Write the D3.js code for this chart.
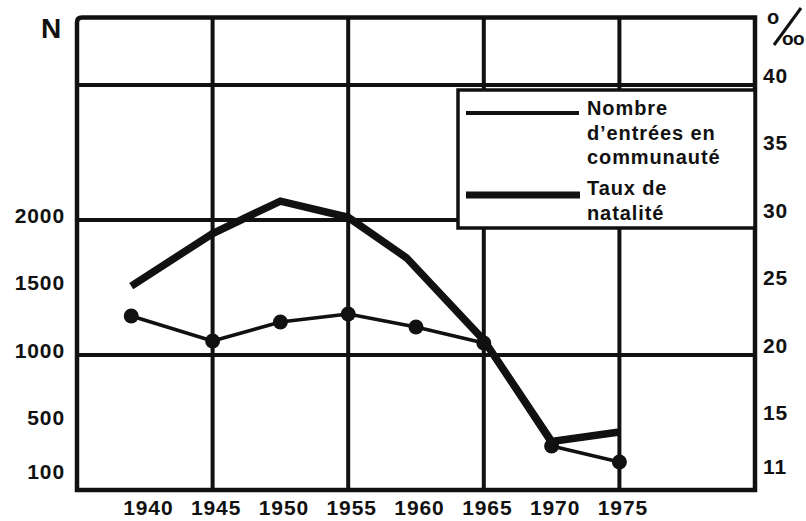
<!DOCTYPE html>
<html>
<head>
<meta charset="utf-8">
<script src="https://cdn.jsdelivr.net/npm/d3@7"></script>
<style>
  html, body { margin: 0; padding: 0; background: #fff; }
  svg { display: block; }
  text { font-family: "Liberation Sans", Arial, Helvetica, sans-serif; font-weight: bold; fill: #111; }
</style>
</head>
<body>
<svg id="chart" width="806" height="521"></svg>
<script>
// ---- data ----
const entriesYears = [1939, 1945, 1950, 1955, 1960, 1965, 1970, 1975];
const entriesValues = [1289, 1104, 1244, 1304, 1207, 1089, 326, 207];   // N
const natalityYears = [1939, 1945, 1950, 1955, 1959.3, 1965, 1970, 1975];
const natalityValues = [25.1, 29.0, 31.4, 30.2, 27.2, 21.1, 13.6, 14.3]; // ‰
const xTickLabels = [1940, 1945, 1950, 1955, 1960, 1965, 1970, 1975];
const leftTicks = [2000, 1500, 1000, 500, 100];
const rightTicks = [40, 35, 30, 25, 20, 15, 11];
const gridYears = [1945, 1955, 1965, 1975];
const gridN = [1000, 2000, 3000];
const legendLabels = [["Nombre", "d\u2019entrées en", "communauté"], ["Taux de", "natalité"]];

// ---- layout ----
const svg = d3.select("#chart");
const ink = "#111";
const x = d3.scaleLinear().domain([1935, 1985]).range([77, 755]);
const yN = d3.scaleLinear().domain([0, 3500]).range([490, 17.5]);
const yR = d3.scaleLinear().domain([10, 45]).range([490, 17.5]);
const fmt = d3.format("d");

// grid
const g = svg.append("g");
g.selectAll("line.h").data(gridN).join("line")
  .attr("x1", x(1935)).attr("x2", x(1985))
  .attr("y1", d => yN(d)).attr("y2", d => yN(d))
  .attr("stroke", ink).attr("stroke-width", 4);
g.selectAll("line.v").data(gridYears).join("line")
  .attr("x1", d => x(d)).attr("x2", d => x(d))
  .attr("y1", yN(3500)).attr("y2", yN(0))
  .attr("stroke", ink).attr("stroke-width", 4);
// frame
g.append("path")
  .attr("d", (() => {
    const l = x(1935), r = x(1985), t = yN(3500), b = yN(0), rad = 5;
    return `M${l},${b} L${l},${t + rad} Q${l},${t} ${l + rad},${t} L${r},${t} L${r},${b} Z`;
  })())
  .attr("fill", "none").attr("stroke", ink).attr("stroke-width", 4.5).attr("stroke-linejoin", "miter");

// lines
const lineN = d3.line().x(d => x(d[0])).y(d => yN(d[1]));
const lineR = d3.line().x(d => x(d[0])).y(d => yR(d[1]));
const natData = natalityYears.map((yr, i) => [yr, natalityValues[i]]);
const entData = entriesYears.map((yr, i) => [yr, entriesValues[i]]);

svg.append("path").attr("d", lineR(natData))
  .attr("fill", "none").attr("stroke", ink).attr("stroke-width", 7.5)
  .attr("stroke-linejoin", "miter").attr("stroke-linecap", "butt");
svg.append("path").attr("d", lineN(entData))
  .attr("fill", "none").attr("stroke", ink).attr("stroke-width", 3.5)
  .attr("stroke-linejoin", "round");
svg.selectAll("circle.dot").data(entData).join("circle")
  .attr("cx", d => x(d[0])).attr("cy", d => yN(d[1])).attr("r", 7.5).attr("fill", ink);

// legend
const lg = svg.append("g");
lg.append("rect").attr("x", 458).attr("y", 90).attr("width", x(1985) - 458).attr("height", 138)
  .attr("fill", "#fff").attr("stroke", ink).attr("stroke-width", 3.5);
lg.append("line").attr("x1", 466).attr("x2", 579).attr("y1", 113).attr("y2", 113)
  .attr("stroke", ink).attr("stroke-width", 4);
lg.append("line").attr("x1", 466).attr("x2", 580).attr("y1", 195).attr("y2", 195)
  .attr("stroke", ink).attr("stroke-width", 7);
const legendBase = [115, 195];
legendLabels.forEach((lines, k) => {
  const t = lg.append("text").attr("x", 587).attr("y", legendBase[k])
    .style("font-size", "20px").style("letter-spacing", "0.9px");
  lines.forEach((s, i) => t.append("tspan").attr("x", 587).attr("dy", i === 0 ? 0 : 24.5).text(s));
});

// axes
function styleAxis(sel) {
  sel.select(".domain").remove();
  sel.selectAll("text").style("font-size", "21px").style("letter-spacing", "0.9px")
    .style("font-family", "'Liberation Sans', Arial, sans-serif").style("font-weight", "bold").attr("fill", ink);
}
const axL = svg.append("g").attr("transform", `translate(${x(1935)},0)`)
  .call(d3.axisLeft(yN).tickValues(leftTicks).tickFormat(fmt).tickSize(0).tickPadding(12));
styleAxis(axL);
axL.selectAll("text").attr("dy", "0.1em");

const axR = svg.append("g").attr("transform", `translate(${x(1985)},0)`)
  .call(d3.axisRight(yR).tickValues(rightTicks).tickFormat(fmt).tickSize(0).tickPadding(8));
styleAxis(axR);
axR.selectAll("text").attr("dy", "-0.12em");

const axB = svg.append("g").attr("transform", `translate(3,${yN(0)})`)
  .call(d3.axisBottom(x).tickValues(xTickLabels).tickFormat(fmt).tickSize(0).tickPadding(10));
styleAxis(axB);

// axis titles
svg.append("text").attr("x", 41).attr("y", 38).style("font-size", "28px").text("N");
const pm = svg.append("g").attr("aria-label", "‰");
pm.append("text").attr("x", 767).attr("y", 24).style("font-size", "20px").text("o");
pm.append("line").attr("x1", 774).attr("y1", 45).attr("x2", 801).attr("y2", 8)
  .attr("stroke", ink).attr("stroke-width", 3);
pm.append("text").attr("x", 782).attr("y", 45).style("font-size", "19px").style("letter-spacing", "-0.5px").text("oo");
</script>
</body>
</html>
